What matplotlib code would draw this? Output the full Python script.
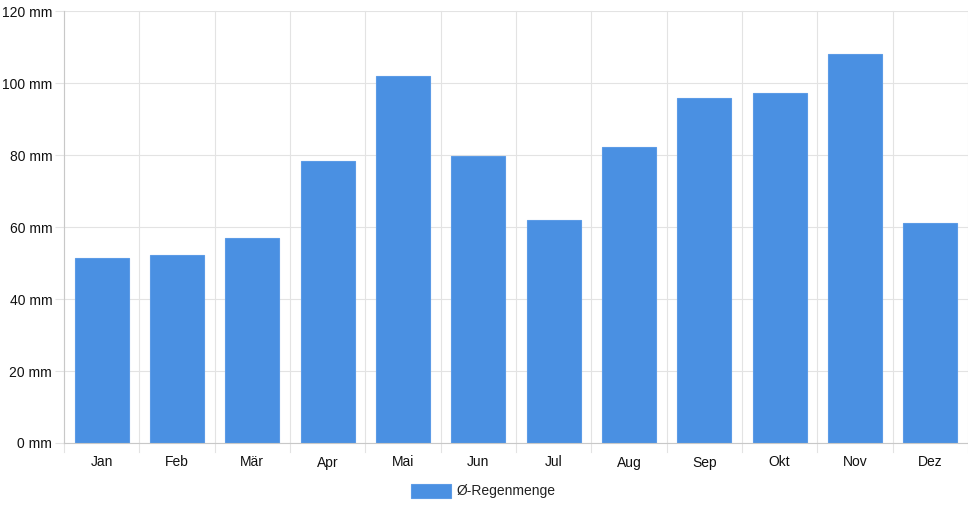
import matplotlib
matplotlib.use("Agg")
import matplotlib.pyplot as plt
from matplotlib.patches import Rectangle
import numpy as np

months = ["Jan", "Feb", "Mär", "Apr", "Mai", "Jun", "Jul", "Aug", "Sep", "Okt", "Nov", "Dez"]
rain = [51.3, 52.3, 57.1, 78.5, 102.0, 79.9, 61.9, 82.4, 95.8, 97.4, 108.2, 61.2]
yticks = [0, 20, 40, 60, 80, 100, 120]
series_label = "Ø-Regenmenge"

plt.rcParams['font.family'] = ['Liberation Sans', 'DejaVu Sans']

W, H = 968, 508
fig = plt.figure(figsize=(W / 100, H / 100), dpi=100)
left, right, top, bottom = 64, 968, 11.3, 443
ax = fig.add_axes([left / W, 1 - bottom / H, (right - left) / W, (bottom - top) / H])

bar_color = "#4a90e2"
x = np.arange(len(months))
ax.bar(x, rain, width=0.72, color=bar_color, edgecolor="#5c9be6", linewidth=0.8, zorder=2)

ax.set_xlim(-0.5, len(months) - 0.5)
ax.set_ylim(0, 120)

grid_c = "#e3e3e3"
fs = 10
ax.set_yticks(yticks)
ax.set_yticklabels([f"{v} mm" for v in yticks])
ax.set_xticks(x)
ax.set_xticklabels(months)
ax.tick_params(axis='x', length=0, pad=9, labelsize=fs, colors="#111111")
ax.tick_params(axis='y', length=6.5, width=0.8, color=grid_c, pad=2, labelsize=fs, labelcolor="#111111")

for v in yticks:
    ax.axhline(v, color=grid_c, linewidth=0.8, zorder=0)
for b in np.arange(-0.5, len(months), 1.0):
    ax.plot([b, b], [0, 120], color=grid_c, linewidth=0.8, zorder=0, clip_on=False)
    ax.plot([b, b], [0, -2.5], color=grid_c, linewidth=0.8, zorder=0, clip_on=False)

for s in ["top", "right"]:
    ax.spines[s].set_visible(False)
ax.spines["left"].set_color("#c8c8c8")
ax.spines["left"].set_linewidth(0.8)
ax.spines["bottom"].set_color("#c8c8c8")
ax.spines["bottom"].set_linewidth(0.8)

# legend
fig.patches.append(Rectangle((411 / W, 1 - 497.5 / H), 40 / W, 13.5 / H,
                             transform=fig.transFigure, facecolor=bar_color,
                             edgecolor="#5c9be6", linewidth=0.8))
fig.text(457 / W, 1 - 490.5 / H, series_label, fontsize=fs, va='center', ha='left', color="#222222")

fig.savefig("out.png", dpi=100)
